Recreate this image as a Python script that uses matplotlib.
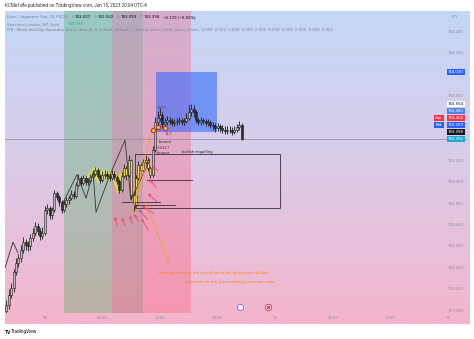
# EUR/JPY 15m screenshot recreation
import numpy as np
import matplotlib.pyplot as plt
from matplotlib.colors import to_rgb

plt.rcParams['font.family'] = ['Roboto', 'DejaVu Sans']

# 15-minute bars, hours from Jun 15 00:00
bar_start = -4.0
bar_step = 0.25
closes = [151.85, 151.95, 152.01, 152.16, 152.25, 152.29, 152.37, 152.44, 152.41, 152.40,
          152.48, 152.53, 152.59, 152.54, 152.50, 152.53, 152.74, 152.76, 152.69, 152.74,
          152.90, 152.86, 152.81, 152.74, 152.80, 152.83, 152.85, 152.89, 152.87, 152.97,
          153.04, 152.99, 153.04, 153.00, 153.01, 153.05, 153.08, 153.11, 153.06, 153.02,
          153.07, 153.08, 153.06, 153.04, 153.08, 153.05, 153.01, 152.93, 153.06, 153.13,
          153.07, 153.21, 152.88, 152.79, 153.04, 153.16, 153.11, 153.19, 153.21, 153.13,
          153.07, 153.30, 153.56, 153.60, 153.63, 153.54, 153.56, 153.58, 153.57, 153.55,
          153.56, 153.57, 153.58, 153.56, 153.57, 153.60, 153.65, 153.68, 153.65, 153.58,
          153.56, 153.58, 153.57, 153.55, 153.56, 153.53, 153.52, 153.50, 153.52, 153.50,
          153.49, 153.48, 153.49, 153.49, 153.47, 153.49, 153.51, 153.53, 153.40]
highs = [151.90, 152.00, 152.06, 152.19, 152.29, 152.33, 152.41, 152.49, 152.47, 152.45,
         152.52, 152.57, 152.63, 152.62, 152.57, 152.58, 152.78, 152.80, 152.78, 152.77,
         152.93, 152.92, 152.88, 152.83, 152.83, 152.86, 152.88, 152.93, 152.92, 153.00,
         153.08, 153.06, 153.07, 153.06, 153.04, 153.08, 153.11, 153.14, 153.13, 153.08,
         153.10, 153.11, 153.10, 153.08, 153.11, 153.10, 153.07, 153.03, 153.09, 153.17,
         153.15, 153.25, 153.22, 152.92, 153.07, 153.20, 153.18, 153.22, 153.25, 153.23,
         153.15, 153.34, 153.61, 153.66, 153.69, 153.65, 153.60, 153.62, 153.61, 153.60,
         153.59, 153.60, 153.61, 153.60, 153.60, 153.64, 153.72, 153.73, 153.72, 153.67,
         153.60, 153.61, 153.60, 153.59, 153.59, 153.58, 153.56, 153.55, 153.55, 153.54,
         153.53, 153.52, 153.52, 153.52, 153.51, 153.52, 153.54, 153.57, 153.55]
lows = [151.77, 151.82, 151.92, 151.98, 152.13, 152.21, 152.26, 152.34, 152.37, 152.36,
        152.37, 152.45, 152.50, 152.51, 152.46, 152.47, 152.51, 152.70, 152.66, 152.66,
        152.72, 152.83, 152.78, 152.71, 152.72, 152.77, 152.80, 152.83, 152.84, 152.85,
        152.95, 152.96, 152.97, 152.97, 152.97, 152.99, 153.03, 153.06, 153.04, 152.99,
        153.00, 153.04, 153.03, 153.01, 153.02, 153.02, 152.98, 152.90, 152.91, 153.04,
        153.02, 153.05, 152.84, 152.73, 152.77, 153.02, 153.08, 153.09, 153.16, 153.10,
        153.04, 153.05, 153.28, 153.53, 153.57, 153.50, 153.51, 153.53, 153.54, 153.52,
        153.52, 153.53, 153.54, 153.53, 153.53, 153.55, 153.58, 153.62, 153.61, 153.55,
        153.53, 153.53, 153.54, 153.52, 153.52, 153.50, 153.49, 153.47, 153.48, 153.47,
        153.46, 153.45, 153.45, 153.46, 153.44, 153.45, 153.47, 153.49, 153.39]
first_open = 151.80

time_ticks = [0, 6, 12, 18, 24, 30, 36, 42]
time_labels = ['15', '06:00', '12:00', '18:00', '16', '06:00', '12:00', '18']
price_ticks = [154.4, 154.2, 153.8, 153.2, 153.0, 152.8, 152.6, 152.4, 152.2, 152.0, 151.8]

# session zones (start, end, colour)
zones = [(2.0, 7.0, '#3ca850'), (7.0, 10.25, '#964638'), (10.25, 15.25, '#ff5070')]
last_price = 153.398
ohlc_legend = [('O', '153.527'), ('H', '153.552'), ('L', '153.393'), ('C', '153.398'),
               ('', '\u22120.129 (\u22120.08%)')]

W, H = 474, 339
fig = plt.figure(figsize=(W / 100, H / 100), dpi=100)
fig.patch.set_facecolor('white')

def rect(x0, y0, x1, y1):
    return [x0 / W, 1 - y1 / H, (x1 - x0) / W, (y1 - y0) / H]

# gradient background panel
bg = fig.add_axes(rect(5, 11, 470, 324))
stops = [(0.0, '#c3d7f5'), (0.45, '#d9cdea'), (1.0, '#f5b5cc')]
yy = np.linspace(0, 1, 200)
grad = np.zeros((200, 1, 3))
for k in range(3):
    grad[:, 0, k] = np.interp(yy, [s[0] for s in stops], [to_rgb(s[1])[k] for s in stops])
bg.imshow(grad, aspect='auto', extent=[0, 1, 0, 1])
bg.axis('off')

ax = fig.add_axes(rect(5, 11, 467, 313))
ax.patch.set_alpha(0)
for s in ax.spines.values():
    s.set_visible(False)
ax.set_xlim(-4.14, 43.98)
ax.set_ylim(151.78, 154.595)

for a, b, c in zones:
    ax.axvspan(a, b, color=c, alpha=0.3, lw=0, zorder=0)

# blue box and black rectangle
ax.add_patch(plt.Rectangle((11.6, 153.47), 6.3, 0.56, fc='#2962ff', alpha=0.55, lw=0, zorder=1))
ax.add_patch(plt.Rectangle((9.4, 152.76), 15.1, 0.50, fc='none', ec='#333333', lw=0.6, zorder=2))

ax.axhline(last_price, color='#8c8c9c', lw=0.5, zorder=1)

# candles
t = np.arange(len(closes)) * bar_step + bar_start
closes = np.array(closes)
opens = np.concatenate([[first_open], closes[:-1]])
up = closes >= opens
face = np.where(up, '#bdbdbd', '#2a2a2a').astype(object)
face[49:61] = '#f2e04a'

# yellow highlighter
ax.plot(t[35:49], closes[35:49], color='#f8f000', lw=4.5, alpha=0.6, solid_capstyle='round', zorder=2)

ax.vlines(t, lows, highs, color='#1a1a1a', lw=0.6, zorder=3)
ax.bar(t, closes - opens, bottom=opens, width=0.2, color=list(face), edgecolor='#1a1a1a', lw=0.4, zorder=4)

# drawn zigzags
zz1 = ([-4.14, -3.31, -2.79], [152.20, 152.44, 152.34])
zz2 = ([1.80, 3.36, 4.30, 5.03, 5.34, 6.80, 8.36, 8.98, 10.96],
       [152.79, 153.07, 152.85, 153.09, 152.72, 153.07, 153.39, 152.83, 153.21])
for xs, ys in (zz1, zz2):
    ax.plot(xs, ys, color='#333333', lw=0.6, zorder=5)

for y, x0, x1 in [(153.02, 10.66, 15.36), (152.81, 8.05, 12.0), (152.79, 9.19, 13.57)]:
    ax.plot([x0, x1], [y, y], color='#333333', lw=0.6, zorder=5)

# red arrows
arrows = [((7.63, 152.57), (7.21, 152.70)), ((8.46, 152.57), (7.94, 152.69)),
          ((9.19, 152.59), (8.78, 152.71)), ((9.92, 152.61), (9.19, 152.72)),
          ((10.96, 152.63), (9.61, 152.76)), ((11.59, 152.69), (9.92, 152.79)),
          ((12.0, 152.79), (10.55, 152.91)), ((11.8, 152.93), (10.76, 153.04)),
          ((12.0, 153.09), (10.96, 153.17)), ((10.96, 152.53), (9.92, 152.68))]
for src, dst in arrows:
    ax.annotate('', xy=dst, xytext=src,
                arrowprops=dict(arrowstyle='->', color='#ff3358', lw=0.5, mutation_scale=4), zorder=6)

# orange lines
for (x0, y0), (x1, y1) in [((9.09, 152.72), (11.18, 153.50)), ((9.09, 152.72), (10.55, 153.16)),
                           ((10.55, 152.79), (13.05, 152.22))]:
    ax.plot([x0, x1], [y0, y1], color='#f7a030', lw=0.6, zorder=5)

ax.plot([11.28, 11.80, 12.53], [153.49, 153.51, 153.50], 'o', ms=3, mfc='#f5d442',
        mec='#c0392b', mew=0.9, zorder=7)

tk = dict(fontsize=3, color='#333333', zorder=8)
ax.text(11.8, 153.68, 'LMH', fontsize=3, color='#5a4f7a', zorder=8)
ax.text(12.64, 153.44, 'LL?', **tk)
ax.text(11.9, 153.36, 'bounce', style='italic', **tk)
ax.text(11.6, 153.31, 'HH/LL?', **tk)
ax.text(11.69, 153.26, 'bounce', **tk)
ax.text(14.3, 153.27, 'bullish engulfing', **tk)

ax.text(17.65, 152.15, 'next day confirm the overall trend still pointing to bullish',
        fontsize=3.2, color='#f08a24', ha='center', va='center', zorder=8)
ax.text(19.3, 152.07, 'direction for me, just building a stronger case',
        fontsize=3.2, color='#f08a24', ha='center', va='center', zorder=8)

# event icons
ax.plot([20.34], [151.84], 'o', ms=4.5, mfc='white', mec='#9c6ade', mew=0.7, clip_on=False, zorder=8)
ax.plot([23.26], [151.84], 'o', ms=4.5, mfc='white', mec='#f23645', mew=0.7, clip_on=False, zorder=8)
ax.plot([23.26], [151.84], 'o', ms=1.5, color='#f23645', clip_on=False, zorder=9)

# time axis
ax.set_xticks(time_ticks)
ax.set_xticklabels(time_labels)
ax.set_yticks([])
ax.tick_params(axis='x', length=0, pad=2, labelsize=3.2, labelcolor='#8e8ea0')

# price scale
xlab = (456 - 5) / 462
for p in price_ticks:
    ax.text(xlab, p, f'{p:.3f}', transform=ax.get_yaxis_transform(), fontsize=3.2,
            color='#8e8ea0', ha='center', va='center')

tags = [(72, '154.030', '#2962ff', 'white'), (104, '153.554', 'white', '#131722'),
        (111, '153.430', '#4f7fe8', 'white'), (118, '153.404', '#f23645', 'white'),
        (125, '153.399', '#2962ff', 'white'), (132, '153.398', '#131722', 'white'),
        (139, '153.396', '#22a8d0', 'white')]
for y, s, fc, tc in tags:
    fig.text(456 / W, 1 - y / H, s, fontsize=3.2, color=tc, ha='center', va='center',
             bbox=dict(boxstyle='square,pad=0.3', fc=fc, ec='none'))
fig.text(439 / W, 1 - 118 / H, 'Ask', fontsize=3.2, color='white', ha='center', va='center',
         bbox=dict(boxstyle='square,pad=0.3', fc='#f23645', ec='none'))
fig.text(439 / W, 1 - 125 / H, 'Bid', fontsize=3.2, color='white', ha='center', va='center',
         bbox=dict(boxstyle='square,pad=0.3', fc='#2962ff', ec='none'))
fig.text(455 / W, 1 - 17 / H, 'JPY', fontsize=3.2, color='#8e8ea0', ha='center', va='center')

# header and legend
fig.text(5 / W, 1 - 5.5 / H, 'KCMe1dfe published on TradingView.com, Jun 15, 2023 20:04 UTC-4',
         fontsize=3.3, color='#333333', va='center')
prev = fig.text(7 / W, 1 - 17 / H, 'Euro / Japanese Yen, 15, FXCM', fontsize=3.2,
                color='#80859a', va='center')
for lab, val in ohlc_legend:
    if lab:
        prev = bg.annotate(lab, xy=(1, 0.5), xycoords=prev, xytext=(2.5, 0), textcoords='offset points',
                           fontsize=3.2, color='#80859a', va='center', annotation_clip=False)
        gap = 0.2
    else:
        gap = 2.5
    prev = bg.annotate(val, xy=(1, 0.5), xycoords=prev, xytext=(gap, 0), textcoords='offset points',
                       fontsize=3.2, color='#1f2a44', fontweight='bold', va='center', annotation_clip=False)
fig.text(7 / W, 1 - 24 / H, 'Sessions London, NY, Asia', fontsize=3.2, color='#80859a', va='center')
fig.text(68 / W, 1 - 24 / H, '153.396', fontsize=3.2, color='#22a8d0', va='center')
fig.text(7 / W, 1 - 30.5 / H,
         'FIB \u00b7 Week and Day Separator (Daily, default, 4, default, default, 1, dotted, silver, silver, silver, silver)  '
         + '  '.join(['0.000'] * 10), fontsize=3.2, color='#80859a', va='center')

fig.text(5 / W, 1 - 332 / H, 'TV', fontsize=3.6, color='#131722', fontweight='bold', va='center')
fig.text(11 / W, 1 - 332 / H, 'TradingView', fontsize=3.4, color='#131722', va='center')

fig.savefig('out.png', dpi=100)
